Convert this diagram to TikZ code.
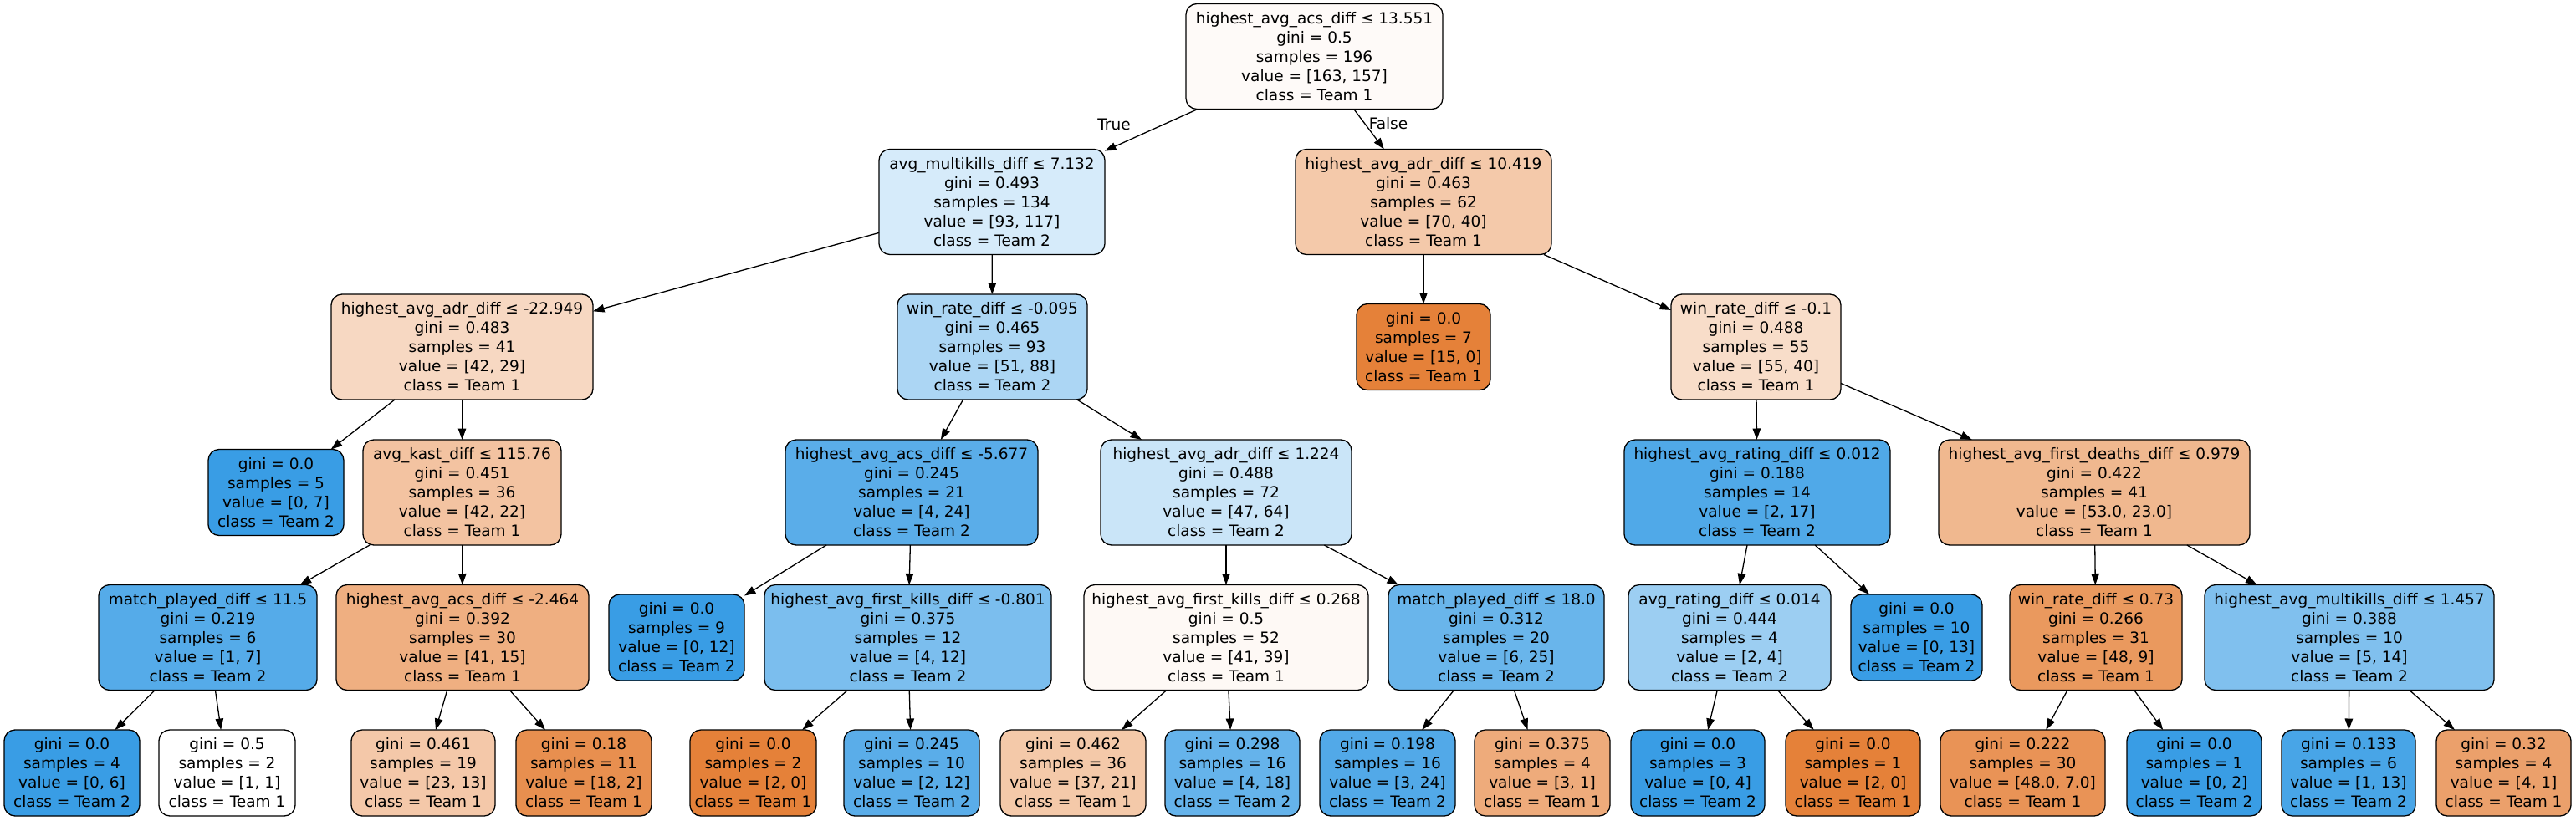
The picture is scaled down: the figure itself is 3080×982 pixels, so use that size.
\documentclass[tikz,border=0pt]{standalone}
\usepackage{fontspec}
\setmainfont{DejaVu Sans}
\usetikzlibrary{arrows.meta}
\definecolor{tone}{RGB}{229,129,57}
\definecolor{ttwo}{RGB}{57,157,229}
\tikzset{
 tnode/.style={draw=black, line width=1.3pt, rounded corners=13pt, align=center, inner sep=2pt, outer sep=0pt, font=\fontsize{18.5}{23}\selectfont},
 split/.style={tnode, minimum height=126pt},
 leaf/.style={tnode, minimum height=103pt},
 conn/.style={line width=1.3pt, -{Triangle[length=13.5pt,width=9.5pt]}},
 lbl/.style={inner sep=0pt, font=\fontsize{18.5}{23}\selectfont},
}
\begin{document}
\begin{tikzpicture}[x=1pt,y=-1pt]
\useasboundingbox (0,0) rectangle (3080,982);
\fill[white] (0,0) rectangle (3080,982);
% level 0
\node[split, fill=tone!3.7!white, minimum width=307pt] (r) at (1571.5,67.5) {highest\_avg\_acs\_diff ≤ 13.551\\gini = 0.5\\samples = 196\\value = [163, 157]\\class = Team 1};
% level 1
\node[split, fill=ttwo!20.5!white, minimum width=270pt] (a) at (1186,241.5) {avg\_multikills\_diff ≤ 7.132\\gini = 0.493\\samples = 134\\value = [93, 117]\\class = Team 2};
\node[split, fill=tone!42.9!white, minimum width=306pt] (b) at (1702,241.5) {highest\_avg\_adr\_diff ≤ 10.419\\gini = 0.463\\samples = 62\\value = [70, 40]\\class = Team 1};
% level 2
\node[split, fill=tone!31!white, minimum width=313pt] (c) at (552.5,415) {highest\_avg\_adr\_diff ≤ -22.949\\gini = 0.483\\samples = 41\\value = [42, 29]\\class = Team 1};
\node[split, fill=ttwo!42!white, minimum width=227pt] (d) at (1186.5,415) {win\_rate\_diff ≤ -0.095\\gini = 0.465\\samples = 93\\value = [51, 88]\\class = Team 2};
\node[leaf, fill=tone, minimum width=160pt] (e) at (1702,415) {gini = 0.0\\samples = 7\\value = [15, 0]\\class = Team 1};
\node[split, fill=tone!27.3!white, minimum width=203pt] (f) at (2099.5,415) {win\_rate\_diff ≤ -0.1\\gini = 0.488\\samples = 55\\value = [55, 40]\\class = Team 1};
% level 3
\node[leaf, fill=ttwo, minimum width=162pt] (g) at (330,589) {gini = 0.0\\samples = 5\\value = [0, 7]\\class = Team 2};
\node[split, fill=tone!47.6!white, minimum width=237pt] (h) at (552.5,589) {avg\_kast\_diff ≤ 115.76\\gini = 0.451\\samples = 36\\value = [42, 22]\\class = Team 1};
\node[split, fill=ttwo!83.3!white, minimum width=302pt] (i) at (1090,589) {highest\_avg\_acs\_diff ≤ -5.677\\gini = 0.245\\samples = 21\\value = [4, 24]\\class = Team 2};
\node[split, fill=ttwo!26.6!white, minimum width=300pt] (j) at (1466,589) {highest\_avg\_adr\_diff ≤ 1.224\\gini = 0.488\\samples = 72\\value = [47, 64]\\class = Team 2};
\node[split, fill=ttwo!88.2!white, minimum width=318pt] (k) at (2101,589) {highest\_avg\_rating\_diff ≤ 0.012\\gini = 0.188\\samples = 14\\value = [2, 17]\\class = Team 2};
\node[split, fill=tone!56.6!white, minimum width=372pt] (l) at (2504,589) {highest\_avg\_first\_deaths\_diff ≤ 0.979\\gini = 0.422\\samples = 41\\value = [53.0, 23.0]\\class = Team 1};
% level 4
\node[split, fill=ttwo!85.7!white, minimum width=261pt] (m) at (248.5,762.5) {match\_played\_diff ≤ 11.5\\gini = 0.219\\samples = 6\\value = [1, 7]\\class = Team 2};
\node[split, fill=tone!63.4!white, minimum width=302pt] (n) at (553,762.5) {highest\_avg\_acs\_diff ≤ -2.464\\gini = 0.392\\samples = 30\\value = [41, 15]\\class = Team 1};
\node[leaf, fill=ttwo, minimum width=162pt] (o) at (809,762.5) {gini = 0.0\\samples = 9\\value = [0, 12]\\class = Team 2};
\node[split, fill=ttwo!66.7!white, minimum width=343pt] (p) at (1085.5,762.5) {highest\_avg\_first\_kills\_diff ≤ -0.801\\gini = 0.375\\samples = 12\\value = [4, 12]\\class = Team 2};
\node[split, fill=tone!4.9!white, minimum width=340pt] (q) at (1466,762.5) {highest\_avg\_first\_kills\_diff ≤ 0.268\\gini = 0.5\\samples = 52\\value = [41, 39]\\class = Team 1};
\node[split, fill=ttwo!76!white, minimum width=258pt] (s1) at (1789,762.5) {match\_played\_diff ≤ 18.0\\gini = 0.312\\samples = 20\\value = [6, 25]\\class = Team 2};
\node[split, fill=ttwo!50!white, minimum width=242pt] (s2) at (2068,762.5) {avg\_rating\_diff ≤ 0.014\\gini = 0.444\\samples = 4\\value = [2, 4]\\class = Team 2};
\node[leaf, fill=ttwo, minimum width=157pt] (t) at (2291.5,762.5) {gini = 0.0\\samples = 10\\value = [0, 13]\\class = Team 2};
\node[split, fill=tone!81.25!white, minimum width=206pt] (u) at (2506,762.5) {win\_rate\_diff ≤ 0.73\\gini = 0.266\\samples = 31\\value = [48, 9]\\class = Team 1};
\node[split, fill=ttwo!64.3!white, minimum width=346pt] (v) at (2809,762.5) {highest\_avg\_multikills\_diff ≤ 1.457\\gini = 0.388\\samples = 10\\value = [5, 14]\\class = Team 2};
% level 5
\node[leaf, fill=ttwo, minimum width=162pt] (w1) at (86,924.5) {gini = 0.0\\samples = 4\\value = [0, 6]\\class = Team 2};
\node[leaf, fill=white, minimum width=163pt] (w2) at (271.5,924.5) {gini = 0.5\\samples = 2\\value = [1, 1]\\class = Team 1};
\node[leaf, fill=tone!43.5!white, minimum width=172pt] (w3) at (506,924.5) {gini = 0.461\\samples = 19\\value = [23, 13]\\class = Team 1};
\node[leaf, fill=tone!88.9!white, minimum width=162pt] (w4) at (698,924.5) {gini = 0.18\\samples = 11\\value = [18, 2]\\class = Team 1};
\node[leaf, fill=tone, minimum width=151pt] (w5) at (900.5,924.5) {gini = 0.0\\samples = 2\\value = [2, 0]\\class = Team 1};
\node[leaf, fill=ttwo!83.3!white, minimum width=162pt] (w6) at (1090,924.5) {gini = 0.245\\samples = 10\\value = [2, 12]\\class = Team 2};
\node[leaf, fill=tone!43.2!white, minimum width=174pt] (w7) at (1283,924.5) {gini = 0.462\\samples = 36\\value = [37, 21]\\class = Team 1};
\node[leaf, fill=ttwo!77.8!white, minimum width=161pt] (w8) at (1473.5,924.5) {gini = 0.298\\samples = 16\\value = [4, 18]\\class = Team 2};
\node[leaf, fill=ttwo!87.5!white, minimum width=162pt] (w9) at (1659,924.5) {gini = 0.198\\samples = 16\\value = [3, 24]\\class = Team 2};
\node[leaf, fill=tone!66.7!white, minimum width=162pt] (w10) at (1844,924.5) {gini = 0.375\\samples = 4\\value = [3, 1]\\class = Team 1};
\node[leaf, fill=ttwo, minimum width=160pt] (w11) at (2030,924.5) {gini = 0.0\\samples = 3\\value = [0, 4]\\class = Team 2};
\node[leaf, fill=tone, minimum width=161pt] (w12) at (2215.5,924.5) {gini = 0.0\\samples = 1\\value = [2, 0]\\class = Team 1};
\node[leaf, fill=tone!85.4!white, minimum width=197pt] (w13) at (2418.5,924.5) {gini = 0.222\\samples = 30\\value = [48.0, 7.0]\\class = Team 1};
\node[leaf, fill=ttwo, minimum width=161pt] (w14) at (2623.5,924.5) {gini = 0.0\\samples = 1\\value = [0, 2]\\class = Team 2};
\node[leaf, fill=ttwo!92.3!white, minimum width=160pt] (w15) at (2808,924.5) {gini = 0.133\\samples = 6\\value = [1, 13]\\class = Team 2};
\node[leaf, fill=tone!75!white, minimum width=161pt] (w16) at (2993.5,924.5) {gini = 0.32\\samples = 4\\value = [4, 1]\\class = Team 1};
% edges
\foreach \p/\c in {r/a,r/b,a/c,a/d,b/e,b/f,c/g,c/h,d/i,d/j,f/k,f/l,h/m,h/n,i/o,i/p,j/q,j/s1,k/s2,k/t,l/u,l/v,m/w1,m/w2,n/w3,n/w4,p/w5,p/w6,q/w7,q/w8,s1/w9,s1/w10,s2/w11,s2/w12,u/w13,u/w14,v/w15,v/w16}
  \draw[conn] (\p) -- (\c);
\node[lbl] (ltrue) at (1332,149) {True};
\node[lbl] (lfalse) at (1660,148) {False};
\end{tikzpicture}
\end{document}
